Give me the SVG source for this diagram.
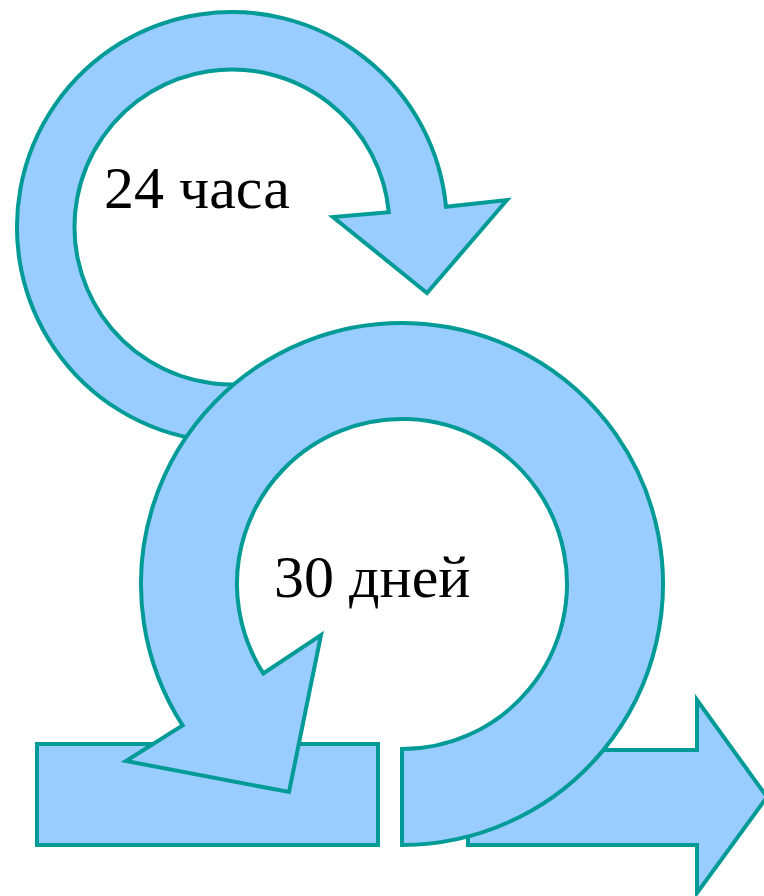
<svg xmlns="http://www.w3.org/2000/svg" width="764" height="896" viewBox="0 0 764 896">
<style>
.sh{fill:#99ccff;stroke:#009b96;stroke-width:4;stroke-linejoin:miter}
.lb{font-family:"Liberation Serif","Times New Roman",serif;font-size:60px;fill:#000}
</style>
<rect width="764" height="896" fill="#fff"/>
<g id="loop24">
<path class="sh" d="M287.6 434.7 A215 215 0 1 1 446 206.8 L507 200 L427 293 L333 217 L388.8 212.2 A157.5 157.5 0 1 0 272.8 379.1 Z"/>
</g>
<g id="backlog">
<rect class="sh" x="37" y="744" width="341" height="101"/>
</g>
<g id="output">
<path class="sh" d="M468 750 L697 750 L697 700 L767 797 L697 893 L697 845 L468 845 Z"/>
</g>
<g id="loop30">
<path class="sh" d="M402 845 A261 261 0 1 0 182.6 725.4 L126 761 L289 792 L321 635 L263.3 673.4 A165 165 0 1 1 402 749 Z"/>
</g>
<g id="labels">
<text class="lb" x="104" y="208">24 часа</text>
<text class="lb" x="274" y="597">30 дней</text>
</g>
</svg>
